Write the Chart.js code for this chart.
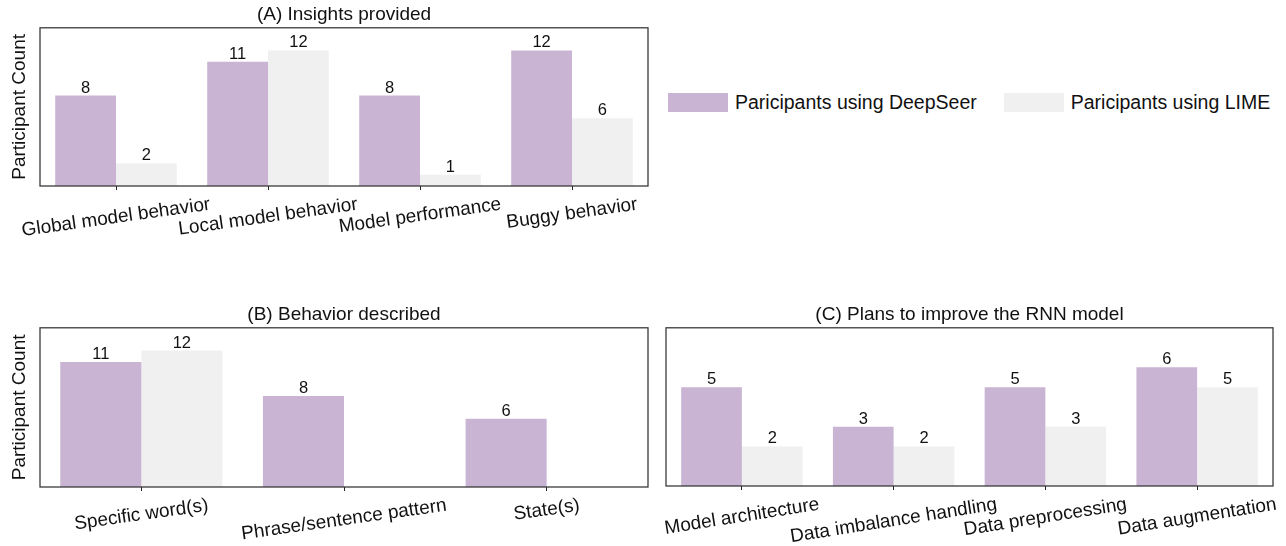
<!DOCTYPE html>
<html>
<head>
<meta charset="utf-8">
<script src="https://cdn.jsdelivr.net/npm/chart.js@4.4.1/dist/chart.umd.min.js"></script>
<style>
  body { margin: 0; background: #fff; width: 1286px; height: 546px; position: relative; overflow: hidden; }
  canvas { position: absolute; }
  #legend { position: absolute; left: 668px; top: 91px; display: flex; white-space: nowrap; font: 19.5px 'Liberation Sans', Arial, sans-serif; color: #111; }
  .item { display: flex; align-items: center; margin-right: 27px; white-space: nowrap; }
  .swatch { width: 60px; height: 19px; margin-right: 7px; flex: none; }
</style>
</head>
<body>
<canvas id="chartA" width="660" height="240" style="left:0;top:0"></canvas>
<div id="legend"></div>
<canvas id="chartB" width="660" height="246" style="left:0;top:300px"></canvas>
<canvas id="chartC" width="636" height="246" style="left:650px;top:300px"></canvas>
<script>
const seriesNames = ['Paricipants using DeepSeer', 'Paricipants using LIME'];
const seriesColors = ['#c9b5d3', '#f0f0f0'];

// (A) Insights provided
const insightCategories = ['Global model behavior', 'Local model behavior', 'Model performance', 'Buggy behavior'];
const insightDeepSeer = [8, 11, 8, 12];
const insightLime = [2, 12, 1, 6];

// (B) Behavior described
const behaviorCategories = ['Specific word(s)', 'Phrase/sentence pattern', 'State(s)'];
const behaviorDeepSeer = [11, 8, 6];
const behaviorLime = [12, 0, 0];

// (C) Plans to improve the RNN model
const planCategories = ['Model architecture', 'Data imbalance handling', 'Data preprocessing', 'Data augmentation'];
const planDeepSeer = [5, 3, 5, 6];
const planLime = [2, 2, 3, 5];

const FONT = "'Liberation Sans', Arial, Helvetica, sans-serif";

// frame around plot, rotated category labels and value labels
const decorations = {
    id: 'decorations',
    afterDraw(chart, args, opts) {
        const { ctx, chartArea: a, scales: { x } } = chart;
        ctx.save();
        ctx.strokeStyle = '#333';
        ctx.lineWidth = 1.25;
        ctx.strokeRect(a.left, a.top, a.right - a.left, a.bottom - a.top);

        // bar values
        ctx.fillStyle = '#111';
        ctx.font = '16.5px ' + FONT;
        ctx.textAlign = 'center';
        ctx.textBaseline = 'alphabetic';
        chart.data.datasets.forEach((ds, i) => {
            chart.getDatasetMeta(i).data.forEach((bar, j) => {
                if (!ds.data[j]) return;
                ctx.fillText(String(ds.data[j]), bar.x, bar.y - 3);
            });
        });

        // category labels, rotated about their centre
        const angle = opts.angle * Math.PI / 180;
        ctx.font = '19px ' + FONT;
        ctx.textBaseline = 'middle';
        chart.data.labels.forEach((label, i) => {
            const w = ctx.measureText(label).width;
            const h = 21;
            const boxH = w * Math.sin(angle) + h * Math.cos(angle);
            const cx = x.getPixelForValue(i);
            const cy = a.bottom + 8 + boxH / 2;
            ctx.save();
            ctx.translate(cx, cy);
            ctx.rotate(-angle);
            ctx.fillText(label, 0, 0);
            ctx.restore();
        });
        ctx.restore();
    }
};

function makeChart(id, title, labels, deepSeer, lime, yMax, yTitle, axisWidth, bottomSpace, rightPad, angle) {
    return new Chart(document.getElementById(id), {
        type: 'bar',
        data: {
            labels,
            datasets: [
                { label: seriesNames[0], data: deepSeer, backgroundColor: seriesColors[0] },
                { label: seriesNames[1], data: lime, backgroundColor: seriesColors[1] }
            ]
        },
        options: {
            responsive: false,
            animation: false,
            devicePixelRatio: 1,
            layout: { padding: { left: 0, right: rightPad, top: 0, bottom: 0 } },
            datasets: { bar: { categoryPercentage: 0.8, barPercentage: 1.0 } },
            plugins: {
                legend: { display: false },
                tooltip: { enabled: false },
                title: {
                    display: true,
                    text: title,
                    fullSize: false,
                    color: '#111',
                    font: { family: FONT, size: 19, weight: 'normal' },
                    padding: { top: 3, bottom: 2 }
                },
                decorations: { angle }
            },
            scales: {
                x: {
                    grid: { display: true, drawOnChartArea: false, offset: false, tickLength: 4, color: '#222', lineWidth: 1 },
                    border: { display: false },
                    ticks: { display: false },
                    afterFit: s => { s.height = bottomSpace; }
                },
                y: {
                    min: 0,
                    max: yMax,
                    grid: { display: false },
                    border: { display: false },
                    ticks: { display: false },
                    title: {
                        display: !!yTitle,
                        text: yTitle,
                        color: '#111',
                        font: { family: FONT, size: 19 },
                        padding: { top: 8, bottom: 0 }
                    },
                    afterFit: s => { s.width = axisWidth; }
                }
            }
        },
        plugins: [decorations]
    });
}

makeChart('chartA', '(A) Insights provided', insightCategories, insightDeepSeer, insightLime, 14, 'Participant Count', 40, 54, 12, 8);
makeChart('chartB', '(B) Behavior described', behaviorCategories, behaviorDeepSeer, behaviorLime, 14, 'Participant Count', 40, 59, 12, 8);
makeChart('chartC', '(C) Plans to improve the RNN model', planCategories, planDeepSeer, planLime, 8, '', 16, 60, 13, 9);

// shared legend
const legend = document.getElementById('legend');
seriesNames.forEach((name, i) => {
    const item = document.createElement('div');
    item.className = 'item';
    const sw = document.createElement('span');
    sw.className = 'swatch';
    sw.style.background = seriesColors[i];
    const txt = document.createElement('span');
    txt.textContent = name;
    item.appendChild(sw);
    item.appendChild(txt);
    legend.appendChild(item);
});
</script>
</body>
</html>
